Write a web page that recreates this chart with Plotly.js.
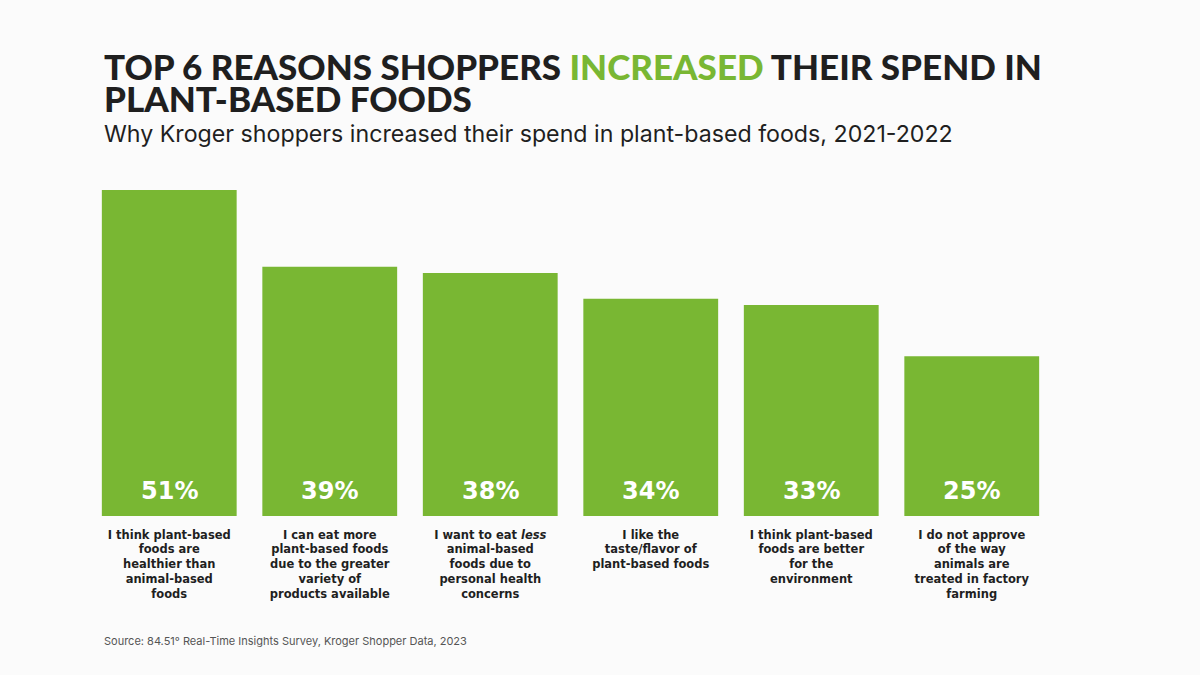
<!DOCTYPE html>
<html>
<head>
<meta charset="utf-8">
<script src="https://cdn.plot.ly/plotly-3.0.1.min.js"></script>
<style>
  html, body { margin: 0; padding: 0; background: #fbfbfb; }
  #chart { width: 1200px; height: 675px; }
</style>
</head>
<body>
<div id="chart"></div>
<script>
// Reasons shoppers gave for spending more on plant-based foods
const reasons = [
  "I think plant-based<br>foods are<br>healthier than<br>animal-based<br>foods",
  "I can eat more<br>plant-based foods<br>due to the greater<br>variety of<br>products available",
  "I want to eat <i>less</i><br>animal-based<br>foods due to<br>personal health<br>concerns",
  "I like the<br>taste/flavor of<br>plant-based foods",
  "I think plant-based<br>foods are better<br>for the<br>environment",
  "I do not approve<br>of the way<br>animals are<br>treated in factory<br>farming"
];
const shares = [51, 39, 38, 34, 33, 25];

const GREEN = "#79b733";
const INK = "#1f1f1f";
const positions = reasons.map((_, i) => i);

const trace = {
  type: "bar",
  x: positions,
  y: shares,
  marker: { color: GREEN },
  hoverinfo: "skip"
};

// value labels sit near the foot of each bar
const valueNotes = shares.map((v, i) => ({
  x: i, y: 0, xref: "x", yref: "y",
  text: v + "%",
  showarrow: false,
  yanchor: "bottom",
  yshift: 9,
  font: { family: "DejaVu Sans, sans-serif", size: 24, color: "#ffffff", weight: 700 }
}));

const layout = {
  width: 1200,
  height: 675,
  paper_bgcolor: "#fbfbfb",
  plot_bgcolor: "#fbfbfb",
  margin: { l: 89, r: 148, t: 190, b: 159 },
  bargap: 0.16,
  showlegend: false,
  xaxis: {
    range: [-0.5, 5.5],
    tickmode: "array",
    tickvals: positions,
    ticktext: reasons,
    ticks: "",
    ticklen: 0,
    ticklabelstandoff: 10,
    showgrid: false,
    zeroline: false,
    showline: false,
    fixedrange: true,
    tickfont: { family: "DejaVu Sans, sans-serif", size: 11.5, color: INK, weight: 700 }
  },
  yaxis: {
    range: [0, 51],
    showgrid: false,
    zeroline: false,
    showline: false,
    showticklabels: false,
    fixedrange: true
  },
  annotations: [
    {
      xref: "paper", yref: "paper", x: 0.0132, y: 1.38,
      xanchor: "left", yanchor: "middle", showarrow: false, height: 30,
      text: "TOP 6 REASONS SHOPPERS <span style='color:" + GREEN + "'>INCREASED</span> THEIR SPEND IN",
      font: { family: "Lato, Inter, sans-serif", size: 35, color: INK, weight: 900 }
    },
    {
      xref: "paper", yref: "paper", x: 0.0132, y: 1.283,
      xanchor: "left", yanchor: "middle", showarrow: false, height: 30,
      text: "PLANT-BASED FOODS",
      font: { family: "Lato, Inter, sans-serif", size: 35, color: INK, weight: 900 }
    },
    {
      xref: "paper", yref: "paper", x: 0.0132, y: 1.172,
      xanchor: "left", yanchor: "middle", showarrow: false,
      text: "Why Kroger shoppers increased their spend in plant-based foods, 2021-2022",
      font: { family: "Inter, sans-serif", size: 23.2, color: INK, weight: 400 }
    },
    {
      xref: "paper", yref: "paper", x: 0.0132, y: -0.383,
      xanchor: "left", yanchor: "middle", showarrow: false,
      text: "Source: 84.51° Real-Time Insights Survey, Kroger Shopper Data, 2023",
      font: { family: "Inter, sans-serif", size: 11, color: "#555555" }
    }
  ].concat(valueNotes)
};

Plotly.newPlot("chart", [trace], layout, { displayModeBar: false, staticPlot: true });
</script>
</body>
</html>
